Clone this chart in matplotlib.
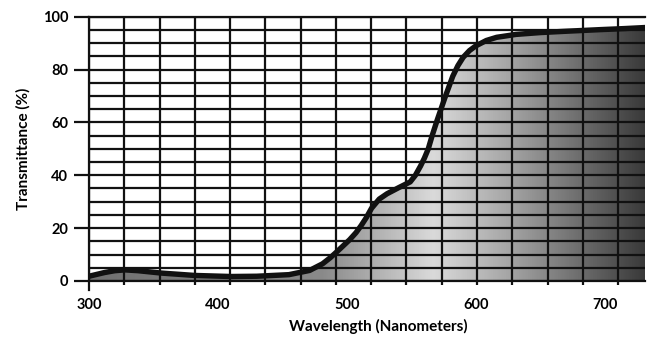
import numpy as np
import matplotlib
matplotlib.use("Agg")
import matplotlib.pyplot as plt
from matplotlib.colors import LinearSegmentedColormap

plt.rcParams['font.family'] = ['Lato', 'DejaVu Sans']

# Data
wavelength = [300, 312, 320, 328, 338, 356, 382, 410, 430, 455, 471, 481, 487, 492, 497, 502, 507,
              511, 515, 519, 525, 531, 540, 549, 553, 557, 560, 563, 566, 570, 576, 582, 586, 590,
              595, 600, 608, 616, 631, 650, 670, 696, 715, 731]
transmittance = [1.8, 3.2, 3.9, 4.2, 3.9, 3.0, 2.1, 1.7, 1.8, 2.4, 4.0, 6.5, 8.8, 11.0, 13.3, 15.6, 18.3,
                 21.0, 24.0, 27.5, 31.0, 33.0, 35.3, 37.5, 40.0, 43.5, 46.5, 50.0, 55.0, 61.0, 69.5, 77.5, 81.5, 84.6,
                 87.2, 89.0, 91.0, 92.2, 93.3, 94.0, 94.5, 95.1, 95.5, 95.9]
x_ticks = [300, 400, 500, 600, 700]
y_ticks = [0, 20, 40, 60, 80, 100]
x_min, x_max = 300, 731
grid_step_x = 27.34  # vertical grid spacing in nm
grid_step_y = 5

fig = plt.figure(figsize=(6.47, 3.37), dpi=100)
ax = fig.add_axes([89/647, 1-281/337, (645-89)/647, (281-16.7)/337])
ax.set_xlim(x_min, x_max)
ax.set_ylim(0, 100)

# gradient fill under the curve
cmap = LinearSegmentedColormap.from_list('glass', [
    (0.0, '#707070'), (0.42, '#8a8a8a'), (0.62, '#dadada'), (0.76, '#a4a4a4'), (1.0, '#3a3a3a')])
grad = np.linspace(0, 1, 512).reshape(1, -1)
im = ax.imshow(grad, extent=[x_min, x_max, 0, 100], aspect='auto', cmap=cmap,
               vmin=0, vmax=1, zorder=1, interpolation='bilinear')
poly = ax.fill_between(wavelength, transmittance, 0, facecolor='none', edgecolor='none')
im.set_clip_path(poly.get_paths()[0], transform=ax.transData)

# grid
for gx in np.arange(16) * grid_step_x + x_min:
    ax.axvline(gx, color='#111111', lw=1.6, zorder=2)
for gy in np.arange(0, 101, grid_step_y):
    ax.axhline(gy, color='#111111', lw=1.6, zorder=2)

# curve
ax.plot(wavelength, transmittance, color='#111111', lw=3.9, solid_capstyle='round',
        solid_joinstyle='round', zorder=4)

ax.spines['right'].set_visible(False)
for s in ['left', 'top', 'bottom']:
    ax.spines[s].set_linewidth(1.6)
    ax.spines[s].set_color('#111111')
ax.spines['left'].set_bounds(-3.5, 100)

ax.set_xticks(x_ticks)
ax.set_xticks(np.arange(16) * grid_step_x + x_min, minor=True)
ax.tick_params(axis='x', which='major', length=0, pad=12, labelsize=10.5)
ax.tick_params(axis='x', which='minor', length=3, width=1.6, color='#111111')
ax.set_yticks(y_ticks)
ax.tick_params(axis='y', which='major', length=11, width=1.6, color='#111111', pad=4, labelsize=10.5)
for lab in ax.get_xticklabels() + ax.get_yticklabels():
    lab.set_fontweight('bold')

ax.set_xlabel('Wavelength (Nanometers)', fontsize=11, fontweight='bold')
ax.xaxis.set_label_coords((378-89)/(645-89), -(326-281)/(281-16.7))
ax.set_ylabel('Transmittance (%)', fontsize=11, fontweight='bold')
ax.yaxis.set_label_coords(-(89-23)/(645-89), 0.5)
ax.xaxis.label.set_va('center')
ax.yaxis.label.set_va('center')

fig.savefig('out.png', dpi=100)
